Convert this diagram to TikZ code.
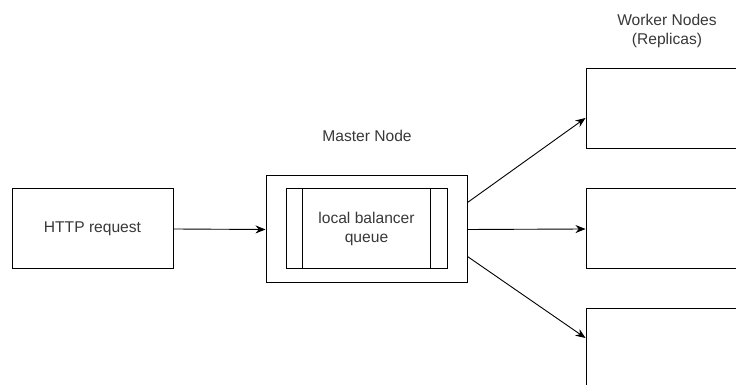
\documentclass[tikz,border=0pt]{standalone}
\usepackage{fontspec}
\setmainfont{Liberation Sans}
\usetikzlibrary{arrows.meta,positioning}

\begin{document}
\begin{tikzpicture}[x=1pt, y=1pt,
  box/.style={draw, line width=1pt, minimum width=161pt, minimum height=80pt, align=center, font=\fontsize{15.6}{19}\selectfont, text=black!78},
  queuebox/.style={box, path picture={
      \draw[line width=1pt] ([xshift=16pt]path picture bounding box.north west) -- ([xshift=16pt]path picture bounding box.south west);
      \draw[line width=1pt] ([xshift=-17pt]path picture bounding box.north east) -- ([xshift=-17pt]path picture bounding box.south east);}},
  outer/.style={draw, line width=1pt, minimum width=201pt, minimum height=107pt},
  label/.style={align=center, font=\fontsize{15.6}{18.8}\selectfont, text=black!78},
  arr/.style={-{Stealth[length=10pt, width=8pt]}, line width=0.9pt}
]
\clip (0,0) rectangle (736,385);

\node[box] (http) at (92.5,156) {HTTP request};

\node[outer] (master) at (366.5,155.5) {};
\node[queuebox] (queue) at (366.5,156) {local balancer\\queue};
\node[label] (mlabel) at (367,249.5) {Master Node};

% replicas run off the right edge
\node[box] (w1) at (666.5,276) {};
\node[box] (w2) at (666.5,156) {};
\node[box] (w3) at (666.5,36) {};
\node[label] (wlabel) at (667,354) {Worker Nodes\\(Replicas)};

\draw[arr] (http.east) -- (master.west);
\draw[arr] ([yshift=27pt]master.east) -- ([yshift=-9pt]w1.west);
\draw[arr] (master.east) -- (w2.west);
\draw[arr] ([yshift=-27pt]master.east) -- ([yshift=11pt]w3.west);

\end{tikzpicture}
\end{document}
